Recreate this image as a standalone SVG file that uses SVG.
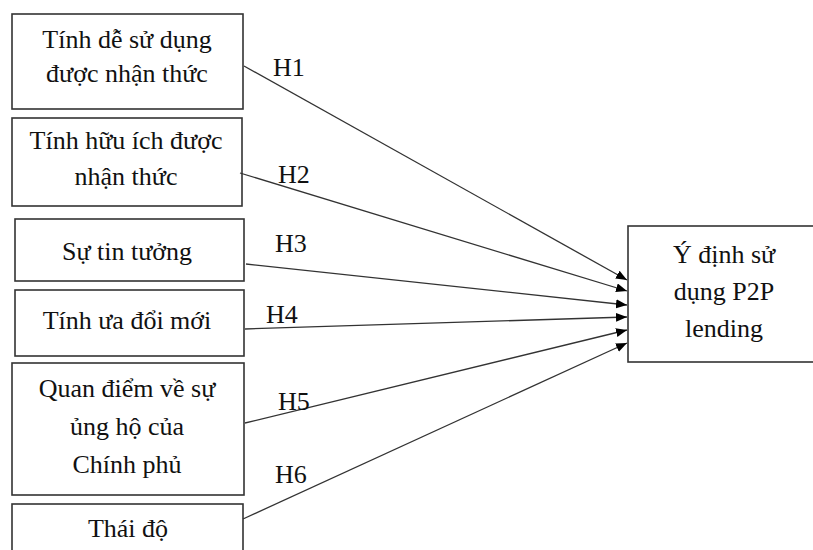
<svg xmlns="http://www.w3.org/2000/svg" width="813" height="550" viewBox="0 0 813 550">
<style>
.box{fill:#fff;stroke:#333;stroke-width:1.6}
.t{font-family:"Liberation Serif","Times New Roman",serif;font-size:26px;fill:#111;text-anchor:middle}
.h{font-family:"Liberation Serif","Times New Roman",serif;font-size:26px;fill:#111}
.c{stroke:#333;stroke-width:1.3;fill:none;marker-end:url(#arr)}
</style>
<defs>
<marker id="arr" markerUnits="userSpaceOnUse" markerWidth="12" markerHeight="10" refX="11" refY="4.5" orient="auto">
<path d="M0,0 L11,4.5 L0,9 z" fill="#000"/>
</marker>
</defs>
<rect width="813" height="550" fill="#fff"/>
<g id="n1"><rect class="box" x="12" y="14" width="231" height="95"/>
<text class="t" x="127" y="48">Tính dễ sử dụng</text><text class="t" x="127" y="82">được nhận thức</text></g>
<g id="n2"><rect class="box" x="12" y="118" width="230" height="88"/>
<text class="t" x="126" y="149">Tính hữu ích được</text><text class="t" x="126" y="185">nhận thức</text></g>
<g id="n3"><rect class="box" x="15" y="219" width="229" height="62"/>
<text class="t" x="127" y="260">Sự tin tưởng</text></g>
<g id="n4"><rect class="box" x="15" y="290" width="229" height="66"/>
<text class="t" x="127" y="329">Tính ưa đổi mới</text></g>
<g id="n5"><rect class="box" x="12" y="363" width="232" height="132"/>
<text class="t" x="127" y="397">Quan điểm về sự</text><text class="t" x="127" y="435">ủng hộ của</text><text class="t" x="127" y="473">Chính phủ</text></g>
<g id="n6"><rect class="box" x="12" y="504" width="231" height="60"/>
<text class="t" x="128" y="537">Thái độ</text></g>
<g id="target"><rect class="box" x="628" y="226" width="200" height="136"/>
<text class="t" x="724" y="263">Ý định sử</text><text class="t" x="724" y="300">dụng P2P</text><text class="t" x="724" y="337">lending</text></g>
<g id="connectors">
<line class="c" x1="244" y1="66" x2="627" y2="280"/>
<line class="c" x1="240" y1="173" x2="627" y2="291"/>
<line class="c" x1="246" y1="264" x2="627" y2="305"/>
<line class="c" x1="245" y1="329" x2="627" y2="317"/>
<line class="c" x1="245" y1="423" x2="627" y2="330"/>
<line class="c" x1="243" y1="519" x2="627" y2="343"/>
<text class="h" x="273" y="76">H1</text>
<text class="h" x="278" y="183">H2</text>
<text class="h" x="275" y="252">H3</text>
<text class="h" x="266" y="323">H4</text>
<text class="h" x="278" y="410">H5</text>
<text class="h" x="275" y="483">H6</text>
</g>
</svg>
